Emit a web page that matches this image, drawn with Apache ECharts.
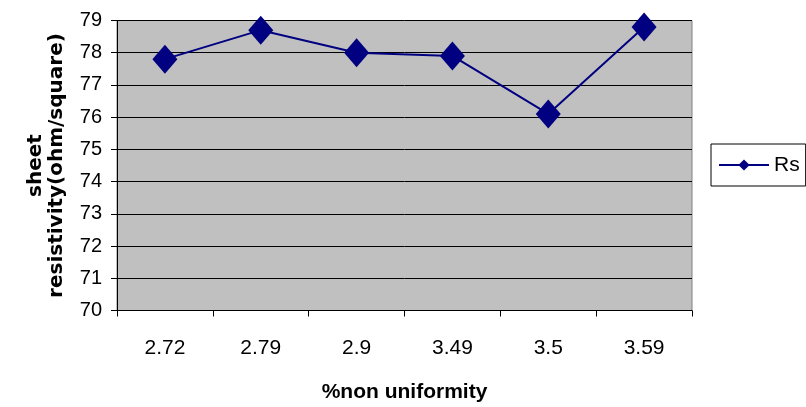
<!DOCTYPE html>
<html>
<head>
<meta charset="utf-8">
<script src="https://cdn.jsdelivr.net/npm/echarts@6/dist/echarts.min.js"></script>
<style>
  html, body { margin: 0; padding: 0; background: #fff; }
  #chart { width: 806px; height: 407px; }
</style>
</head>
<body>
<div id="chart"></div>
<script>
// Sheet resistivity vs. % non uniformity
const categories = ['2.72', '2.79', '2.9', '3.49', '3.5', '3.59'];
const rsValues = [77.8, 78.7, 78.0, 77.9, 76.1, 78.8];
const seriesName = 'Rs';
const yMin = 70, yMax = 79, yStep = 1;

const chart = echarts.init(document.getElementById('chart'), null, { renderer: 'canvas' });
const font = 'Arial, "Liberation Sans", sans-serif';

chart.setOption({
  animation: false,
  backgroundColor: '#ffffff',
  grid: {
    left: 117, right: 114, top: 20.5, bottom: 96.5,
    containLabel: false,
    outerBoundsMode: 'none',
    show: true,
    backgroundColor: '#c0c0c0',
    borderColor: '#808080',
    borderWidth: 1
  },
  legend: {
    data: [seriesName],
    left: 711, top: 144,
    orient: 'vertical',
    borderColor: '#000', borderWidth: 1,
    padding: [10, 6, 10, 7],
    itemWidth: 50, itemHeight: 14, itemGap: 0,
    textStyle: { fontFamily: font, fontSize: 21, color: '#000', lineHeight: 22 }
  },
  xAxis: {
    type: 'category',
    data: categories,
    boundaryGap: true,
    name: '%non uniformity',
    nameLocation: 'middle',
    nameGap: 71,
    nameTextStyle: { fontFamily: font, fontSize: 21, fontWeight: 'bold', color: '#000' },
    axisLine: { lineStyle: { color: '#000', width: 1 } },
    axisTick: { show: true, length: 6, inside: false, lineStyle: { color: '#000' } },
    axisLabel: { fontFamily: font, fontSize: 21, color: '#000', margin: 27 },
    splitLine: { show: false }
  },
  yAxis: {
    type: 'value',
    min: yMin, max: yMax, interval: yStep,
    name: 'sheet\nresistivity(ohm/square)',
    nameLocation: 'middle',
    nameRotate: 90,
    nameGap: 50,
    nameTextStyle: { fontFamily: '"DejaVu Sans", Arial, sans-serif', fontSize: 20, fontWeight: 'bold', color: '#000', lineHeight: 21, align: 'center' },
    axisLine: { show: true, lineStyle: { color: '#000', width: 1 } },
    axisTick: { show: true, length: 6, lineStyle: { color: '#000' } },
    axisLabel: { fontFamily: font, fontSize: 20, color: '#000', margin: 15 },
    splitLine: { show: true, lineStyle: { color: '#000', width: 1 } }
  },
  series: [{
    name: seriesName,
    type: 'line',
    data: rsValues,
    symbol: 'diamond',
    symbolSize: [25, 29],
    itemStyle: { color: '#000080' },
    lineStyle: { color: '#000080', width: 2 }
  }]
});
</script>
</body>
</html>
